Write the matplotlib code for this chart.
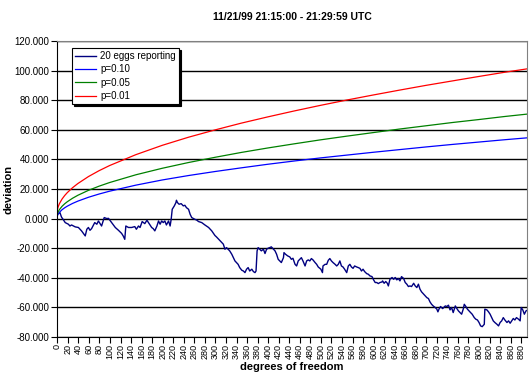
import matplotlib
matplotlib.use("Agg")
import matplotlib.pyplot as plt
from matplotlib.ticker import FuncFormatter

plt.rcParams['font.family'] = ['Liberation Sans', 'DejaVu Sans']

title = '11/21/99 21:15:00 - 21:29:59 UTC'

# 20 eggs reporting
eggs_x = [0, 5, 8, 11, 15, 21, 24, 27, 34, 40, 46, 53, 56, 59, 62, 65, 71, 75, 78, 84,
          89, 94, 97, 103, 110, 116, 122, 125, 128, 130, 135, 141, 147, 150, 154, 157,
          161, 166, 170, 173, 179, 182, 185, 189, 192, 195, 198, 201, 204, 207, 211,
          214, 216, 218, 222, 225, 226, 228, 231, 235, 239, 242, 245, 249, 252, 255,
          261, 264, 268, 274, 280, 287, 293, 299, 302, 309, 315, 318, 321, 324, 327,
          331, 334, 337, 343, 346, 350, 353, 356, 359, 362, 365, 369, 372, 375, 377,
          379, 381, 384, 387, 391, 394, 397, 400, 403, 406, 410, 413, 416, 419, 422,
          425, 429, 430, 433, 437, 441, 444, 447, 451, 454, 457, 460, 463, 466, 470,
          473, 476, 479, 482, 485, 489, 492, 495, 500, 503, 504, 508, 511, 514, 517,
          520, 523, 527, 530, 533, 536, 539, 542, 545, 549, 552, 555, 558, 561, 564,
          568, 571, 574, 577, 580, 583, 587, 590, 593, 597, 600, 603, 606, 609, 612,
          616, 617, 620, 623, 626, 628, 631, 635, 638, 641, 644, 647, 650, 653, 657,
          660, 663, 666, 669, 672, 676, 679, 682, 685, 688, 691, 695, 698, 701, 704,
          707, 710, 713, 717, 720, 722, 724, 727, 731, 736, 739, 742, 745, 748, 751,
          755, 758, 761, 764, 767, 770, 772, 775, 778, 781, 784, 787, 791, 794, 797,
          800, 803, 806, 810, 811, 815, 818, 821, 824, 827, 830, 834, 837, 840, 843,
          846, 849, 853, 856, 859, 862, 865, 868, 871, 875, 878, 880, 883, 886, 889, 891]
eggs_y = [3.0, 4.0, 1.0, -0.5, -2.7, -3.8, -5.0, -4.3, -5.6, -6.0, -8.3, -11.7, -7.2, -6.0,
          -7.9, -6.8, -2.7, -3.8, -1.6, -5.0, 0.7, 0.0, 0.2, -2.7, -6.0, -7.9, -10.0, -11.7,
          -14.0, -5.0, -6.0, -6.0, -5.4, -7.2, -5.0, -6.0, -2.0, -3.4, -1.1, -2.7, -6.0,
          -6.8, -8.3, -5.0, -1.6, -3.8, -1.6, -2.7, -1.6, -4.3, -1.6, -5.0, -0.5, 6.3, 8.6,
          10.8, 12.4, 10.8, 9.7, 10.1, 8.6, 9.0, 7.4, 6.3, 2.9, 0.7, -0.5, -0.9, -2.0, -2.7,
          -4.3, -6.0, -8.3, -11.4, -12.4, -15.0, -17.3, -20.7, -19.6, -20.7, -21.8, -24.1,
          -26.4, -28.6, -30.9, -33.1, -34.9, -35.4, -36.5, -34.2, -33.1, -35.4, -34.2,
          -35.8, -36.5, -35.4, -21.8, -19.6, -20.7, -21.8, -20.7, -23.6, -20.7, -20.0,
          -19.6, -19.1, -20.7, -21.8, -24.1, -27.5, -28.6, -29.7, -26.4, -23.0, -24.1,
          -25.2, -25.9, -27.5, -26.8, -30.9, -32.0, -28.6, -27.5, -26.4, -28.6, -32.0,
          -28.6, -27.9, -28.6, -27.0, -27.9, -29.7, -30.9, -32.7, -34.2, -36.5, -32.0,
          -30.9, -30.9, -28.2, -27.0, -28.6, -29.7, -30.9, -32.0, -30.9, -28.6, -32.0,
          -32.7, -34.2, -36.5, -32.0, -30.9, -32.7, -33.6, -32.0, -32.7, -33.1, -33.6,
          -35.4, -34.2, -35.8, -37.2, -37.6, -38.7, -39.2, -41.4, -43.2, -43.2, -43.9,
          -43.2, -42.8, -42.1, -43.7, -42.5, -43.7, -45.5, -41.0, -39.8, -41.0, -39.8,
          -41.4, -40.5, -42.1, -39.2, -40.5, -43.2, -44.3, -45.9, -45.5, -45.9, -43.7,
          -45.5, -46.6, -44.3, -47.7, -49.5, -51.1, -52.2, -53.4, -54.0, -56.3, -57.9,
          -59.0, -60.1, -61.2, -63.0, -61.2, -59.4, -60.8, -59.0, -59.4, -58.5, -61.7,
          -60.1, -63.5, -59.0, -60.8, -62.4, -63.5, -64.6, -61.2, -57.9, -59.4, -61.2,
          -62.4, -63.5, -64.6, -66.9, -68.0, -68.5, -70.2, -72.5, -73.0, -71.4, -61.2,
          -61.7, -63.0, -64.6, -66.9, -69.1, -70.2, -71.4, -72.5, -70.2, -69.1, -66.9,
          -68.5, -70.2, -69.1, -70.7, -69.1, -67.5, -68.5, -66.9, -68.0, -69.1, -60.1,
          -61.7, -64.6, -62.4, -62.0]

# significance envelopes
env_x = [0, 1, 2, 4, 9, 14, 19, 29, 39, 59, 79, 99, 149, 199, 249, 299, 349, 399, 449,
         499, 549, 599, 649, 699, 749, 799, 849, 899]
p10 = [1.71, 2.61, 3.25, 4.24, 5.99, 7.31, 8.41, 10.26, 11.81, 14.40, 16.58, 18.50, 22.6,
       26.1, 29.1, 31.8, 34.3, 36.7, 38.9, 41.0, 42.9, 44.8, 46.6, 48.4, 50.1, 51.7, 53.3, 54.8]
p05 = [2.84, 3.99, 4.82, 6.07, 8.31, 10.0, 11.41, 13.77, 15.76, 19.08, 21.88, 24.34, 29.6,
       34.0, 37.9, 41.4, 44.7, 47.7, 50.5, 53.2, 55.7, 58.1, 60.5, 62.7, 64.9, 66.9, 69.0, 70.9]
p01 = [5.63, 7.21, 8.34, 10.09, 13.21, 15.58, 17.57, 20.89, 23.69, 28.38, 32.33, 35.81, 43.2,
       49.5, 55.0, 59.9, 64.5, 68.7, 72.7, 76.5, 80.1, 83.5, 86.8, 90.0, 93.0, 96.0, 98.9, 101.6]

fig = plt.figure(figsize=(5.31, 3.77), dpi=100)
ax = fig.add_axes([57.3 / 531, 40 / 377, 469.7 / 531, 296 / 377])

ax.plot(eggs_x, eggs_y, color='#000080', lw=1.0, label='20 eggs reporting')
ax.plot(env_x, p10, color='#0000FF', lw=0.9, label='p=0.10')
ax.plot(env_x, p05, color='#008000', lw=0.9, label='p=0.05')
ax.plot(env_x, p01, color='#FF0000', lw=0.9, label='p=0.01')

ax.set_xlim(0, 891)
ax.set_ylim(-80, 120)
ax.set_yticks(range(-80, 121, 20))
ax.set_xticks(range(0, 881, 20))
ax.yaxis.set_major_formatter(FuncFormatter(lambda v, p: '%.3f' % v))
ax.tick_params(axis='y', labelsize=7, length=4, width=0.8, pad=2)
ax.tick_params(axis='x', labelsize=6.5, length=4, width=0.8, pad=1, labelrotation=90)
ax.grid(axis='y', color='black', lw=1)
ax.set_axisbelow(True)
for s in ['top', 'right']:
    ax.spines[s].set_color('#808080')
for s in ['left', 'bottom']:
    ax.spines[s].set_color('black')

ax.set_title(title, fontsize=7.5, fontweight='bold', pad=15)
ax.set_ylabel('deviation', fontsize=8, fontweight='bold')
ax.yaxis.set_label_coords(-0.093, 0.5)
ax.set_xlabel('degrees of freedom', fontsize=8, fontweight='bold', labelpad=2)

leg = ax.legend(loc='upper left', bbox_to_anchor=(0.031, 0.976), borderaxespad=0,
                fontsize=7, frameon=True, fancybox=False,
                shadow={'color': 'black', 'alpha': 1, 'ox': 1.5, 'oy': -1.5},
                handlelength=2.2, handletextpad=0.4, labelspacing=0.35, borderpad=0.3)
leg.get_frame().set_edgecolor('black')
leg.get_frame().set_linewidth(0.8)

fig.savefig('out.png', dpi=100)
